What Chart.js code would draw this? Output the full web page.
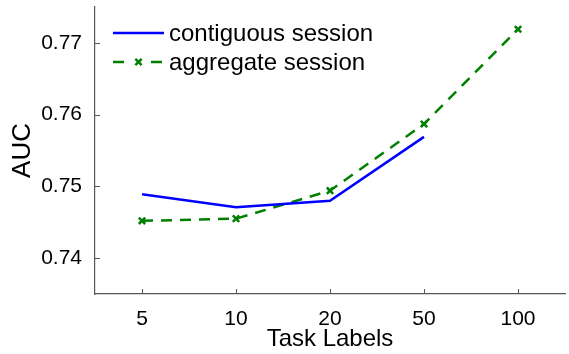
<!DOCTYPE html>
<html>
<head>
<meta charset="utf-8">
<script src="https://cdn.jsdelivr.net/npm/chart.js@4/dist/chart.umd.min.js"></script>
<style>
  html, body { margin: 0; padding: 0; background: #fff; overflow: hidden; }
  #wrap { width: 572px; height: 354px; }
</style>
</head>
<body>
<div id="wrap"><canvas id="line-chart" width="572" height="354"></canvas></div>
<script>
// data
const taskLabels = ['5', '10', '20', '50', '100'];
const contiguousSession = [0.7489, 0.7471, 0.7480, 0.7569, null];
const aggregateSession = [0.7452, 0.7455, 0.7494, 0.7587, 0.7719];
const aucTicks = [0.74, 0.75, 0.76, 0.77];

const AXIS_COLOR = '#555555';
const FONT = 'Liberation Sans, Arial, Helvetica, sans-serif';

// legend drawn inside the plot, top-left, like the matlab one
const insideLegend = {
  id: 'insideLegend',
  afterDraw(chart) {
    const ctx = chart.ctx;
    const area = chart.chartArea;
    const x0 = area.left + 18;
    const x1 = area.left + 69;
    const rows = [area.top + 26, area.top + 55];
    ctx.save();
    chart.data.datasets.forEach((ds, i) => {
      const y = rows[i];
      ctx.strokeStyle = ds.borderColor;
      ctx.lineWidth = ds.borderWidth;
      ctx.setLineDash(ds.borderDash || []);
      ctx.beginPath();
      ctx.moveTo(x0, y);
      ctx.lineTo(x1, y);
      ctx.stroke();
      ctx.setLineDash([]);
      if (ds.pointStyle && ds.pointRadius > 0) {
        // blank out the middle like the reference sample
        const mx = (x0 + x1) / 2;
        ctx.fillStyle = '#fff';
        ctx.fillRect(mx - 9, y - 3, 18, 6);
        ctx.fillStyle = ds.borderColor;
        ctx.strokeStyle = ds.borderColor;
        ctx.lineWidth = ds.pointBorderWidth;
        Chart.helpers.drawPoint(ctx, {
          pointStyle: ds.pointStyle,
          radius: ds.pointRadius,
          rotation: 0,
          borderWidth: ds.pointBorderWidth,
        }, mx, y);
      }
      ctx.fillStyle = '#000';
      ctx.font = '24px ' + FONT;
      ctx.textBaseline = 'middle';
      ctx.textAlign = 'left';
      ctx.fillText(ds.label, x1 + 5, y + 1);
    });
    ctx.restore();
  }
};

// short ticks pointing into the plot
const innerTicks = {
  id: 'innerTicks',
  afterDraw(chart) {
    const ctx = chart.ctx;
    const area = chart.chartArea;
    const xs = chart.scales.x;
    const ys = chart.scales.y;
    ctx.save();
    ctx.strokeStyle = AXIS_COLOR;
    ctx.lineWidth = 1;
    ctx.beginPath();
    xs.ticks.forEach((t, i) => {
      const px = Math.round(xs.getPixelForTick(i)) + 0.5;
      ctx.moveTo(px, area.bottom);
      ctx.lineTo(px, area.bottom - 5);
    });
    ys.ticks.forEach((t, i) => {
      const py = Math.round(ys.getPixelForTick(i)) + 0.5;
      ctx.moveTo(area.left, py);
      ctx.lineTo(area.left + 5, py);
    });
    ctx.stroke();
    ctx.restore();
  }
};

const lineChartBox = document.getElementById('line-chart');

if (lineChartBox) {
  const lineCtx = lineChartBox.getContext('2d');

  new Chart(lineCtx, {
    type: 'line',
    data: {
      labels: taskLabels,
      datasets: [{
        label           : 'contiguous session',
        borderColor     : '#0000ff',
        backgroundColor : '#0000ff',
        borderWidth     : 2.5,
        pointRadius     : 0,
        pointHoverRadius: 0,
        pointStyle      : false,
        tension         : 0,
        data            : contiguousSession,
      }, {
        label                : 'aggregate session',
        borderColor          : '#008000',
        backgroundColor      : '#008000',
        borderWidth          : 2.5,
        borderDash           : [11, 8],
        pointStyle           : 'crossRot',
        pointRadius          : 4.5,
        pointBorderWidth     : 2.5,
        pointBorderColor     : '#008000',
        pointHoverRadius     : 4.5,
        tension              : 0,
        data                 : aggregateSession,
      }],
    },
    plugins: [insideLegend, innerTicks],
    options: {
      responsive: false,
      animation: false,
      layout: { padding: { top: 7, right: 0, left: 0, bottom: 0 } },
      plugins: {
        legend: { display: false },
        tooltip: { enabled: false },
      },
      scales: {
        x: {
          type: 'category',
          offset: true,
          grid: { display: false, drawTicks: false },
          border: { display: true, color: AXIS_COLOR, width: 1.2 },
          ticks: { color: '#000', font: { family: FONT, size: 21 }, padding: 13, maxRotation: 0 },
          title: {
            display: true,
            text: 'Task Labels',
            color: '#000',
            font: { family: FONT, size: 24 },
            padding: { top: -8, bottom: 0 },
          },
          afterFit(scale) {
            scale.height = 60;
            scale.paddingLeft = 0;
            scale.paddingRight = 0;
          },
        },
        y: {
          min: 0.735,
          max: 0.775,
          grid: { display: false, drawTicks: false },
          border: { display: true, color: AXIS_COLOR, width: 1.2 },
          ticks: {
            color: '#000',
            font: { family: FONT, size: 21 },
            padding: 13,
            callback: (v) => Number(v).toFixed(2),
          },
          afterBuildTicks(scale) { scale.ticks = aucTicks.map(v => ({ value: v })); },
          title: {
            display: true,
            text: 'AUC',
            color: '#000',
            font: { family: FONT, size: 26 },
            padding: { top: 7, bottom: 4 },
          },
          afterFit(scale) {
            scale.width = 95;
            scale.paddingTop = 0;
            scale.paddingBottom = 0;
          },
        },
      },
    },
  });
}
</script>
</body>
</html>
